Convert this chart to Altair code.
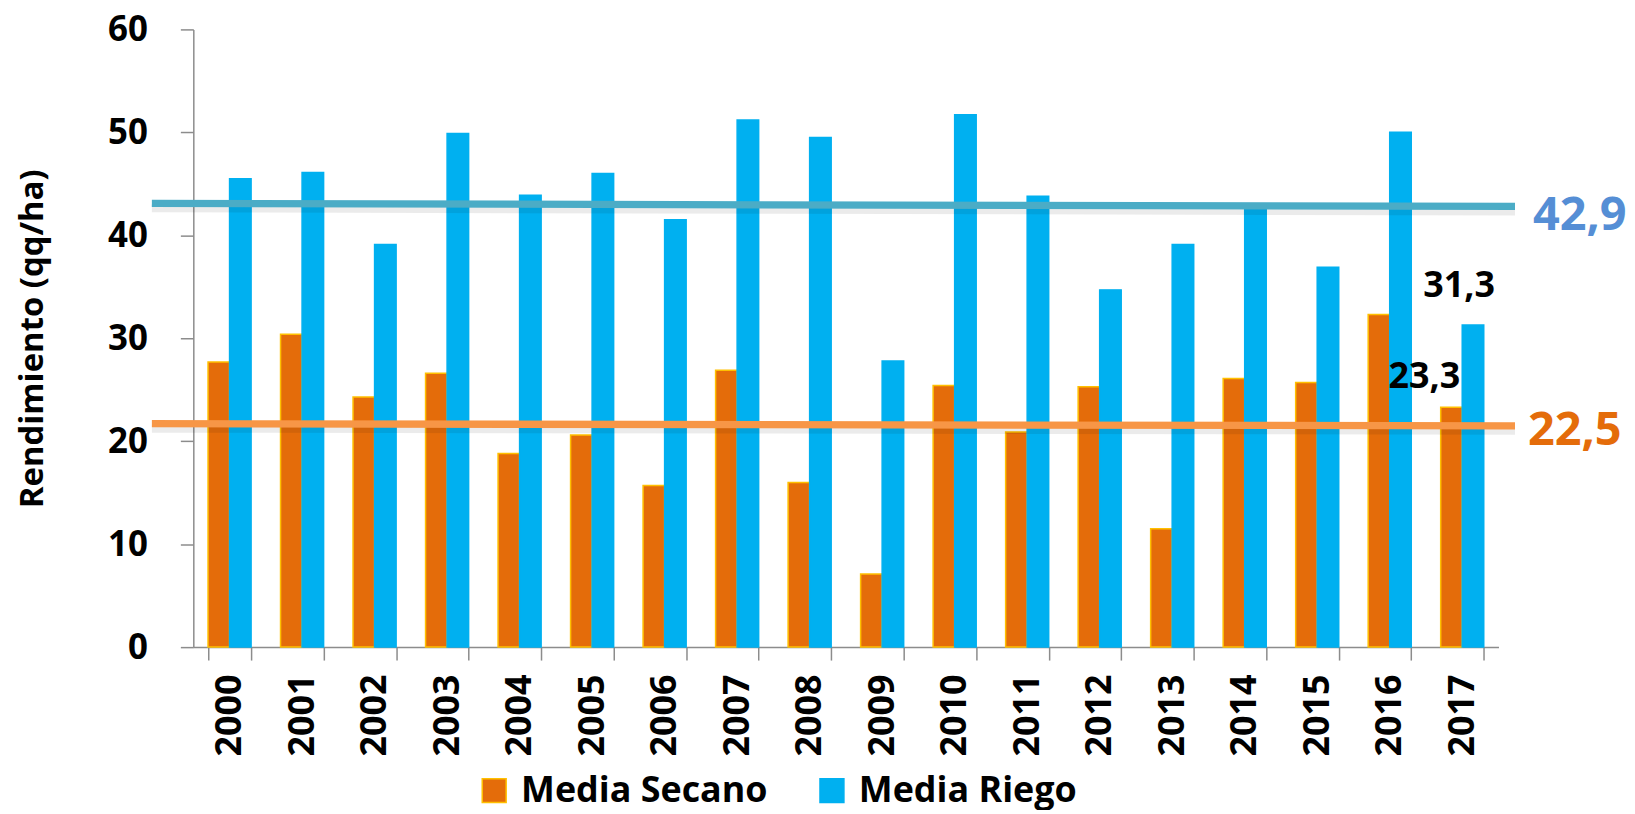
import altair as alt
import pandas as pd

# ---------------- data ----------------
years = [str(y) for y in range(2000, 2018)]
secano = [27.7, 30.4, 24.3, 26.6, 18.8, 20.6, 15.7, 26.9, 16.0, 7.1,
          25.4, 20.9, 25.3, 11.5, 26.1, 25.7, 32.3, 23.3]
riego = [45.5, 46.1, 39.1, 49.9, 43.9, 46.0, 41.5, 51.2, 49.5, 27.8,
         51.7, 43.8, 34.7, 39.1, 42.6, 36.9, 50.0, 31.3]
series = ["Media Secano", "Media Riego"]
fill_colors = ["#E46C0A", "#00B0F0"]
stroke_colors = ["#FFC000", "#00B0F0"]

# trend (mean) lines: value at start and end
trend_start = [21.7, 43.1]
trend_end = [21.5, 42.8]
mean_labels = ["22,5", "42,9"]
mean_colors = ["#E46C0A", "#558ED5"]
line_colors = ["#F79646", "#4BACC6"]

# labels on the last year
last_values = [23.3, 31.3]
last_labels = ["23,3", "31,3"]

FONT = "Open Sans"
GRAY = "#8C8C8C"

# ---------------- tables ----------------
rows = []
for i, yr in enumerate(years):
    rows.append({"year": yr, "serie": series[0], "value": secano[i]})
    rows.append({"year": yr, "serie": series[1], "value": riego[i]})
df = pd.DataFrame(rows)

trend = pd.DataFrame({
    "serie": series,
    "x0": [years[0]] * 2,
    "x1": [years[-1]] * 2,
    "start": trend_start,
    "end": trend_end,
    "label": mean_labels,
})

last = pd.DataFrame({"year": [years[-1]] * 2, "value": last_values, "label": last_labels})

x_scale = alt.Scale(domain=years, paddingInner=0.406, paddingOuter=0.203)
y_scale = alt.Scale(domain=[0, 60], nice=False)

legend = alt.Legend(
    title=None, orient="none", legendX=284, legendY=746, direction="horizontal",
    symbolType="square", symbolSize=576, symbolStrokeWidth=1.5,
    labelFont=FONT, labelFontSize=36, labelFontWeight="bold", labelColor="black",
    labelOffset=9, columnPadding=46, labelLimit=500, padding=0,
)

bars = alt.Chart(df).mark_bar(strokeWidth=1.5).encode(
    x=alt.X("year:N", scale=x_scale, axis=alt.Axis(
        title=None, labelAngle=-90, labelFont=FONT, labelFontSize=36,
        labelFontWeight="bold", labelColor="black", labelPadding=14,
        labelOverlap=False, tickBand="extent", tickSize=13, tickColor=GRAY,
        tickWidth=1.5, domainColor=GRAY, domainWidth=1.5, grid=False)),
    xOffset=alt.XOffset("serie:N", sort=series,
                        scale=alt.Scale(domain=series, paddingInner=0, paddingOuter=0)),
    y=alt.Y("value:Q", scale=y_scale, axis=alt.Axis(
        title="Rendimiento (qq/ha)", values=[0, 10, 20, 30, 40, 50, 60],
        labelFont=FONT, labelFontSize=35, labelFontWeight="bold", labelColor="black",
        labelPadding=33, tickSize=13, tickColor=GRAY, tickWidth=1.5,
        domainColor=GRAY, domainWidth=1.5, grid=False,
        titleFont=FONT, titleFontSize=33, titleFontWeight="bold", titleColor="black",
        titlePadding=58)),
    color=alt.Color("serie:N", sort=series,
                    scale=alt.Scale(domain=series, range=fill_colors), legend=legend),
    stroke=alt.Stroke("serie:N", sort=series,
                      scale=alt.Scale(domain=series, range=stroke_colors), legend=legend),
)

rule_enc = dict(
    x=alt.X("x0:N"),
    x2=alt.X2("x1:N"),
    y=alt.Y("start:Q"),
    y2=alt.Y2("end:Q"),
)

shadow = alt.Chart(trend).mark_rule(
    strokeWidth=8, color="#000000", opacity=0.08,
    xOffset=-78, x2Offset=53, yOffset=5, y2Offset=5,
).encode(**rule_enc)

trend_o = alt.Chart(trend).transform_filter(alt.datum.serie == series[0]).mark_rule(
    strokeWidth=7.3, color=line_colors[0], xOffset=-78, x2Offset=53,
).encode(**rule_enc)
trend_b = alt.Chart(trend).transform_filter(alt.datum.serie == series[1]).mark_rule(
    strokeWidth=7.3, color=line_colors[1], xOffset=-78, x2Offset=53,
).encode(**rule_enc)

mean_o = alt.Chart(trend).transform_filter(alt.datum.serie == series[0]).mark_text(
    align="left", baseline="middle", font=FONT, fontWeight="bold", fontSize=47,
    color=mean_colors[0], dx=66, dy=5,
).encode(x=alt.X("x1:N"), y=alt.Y("end:Q"), text="label:N")
mean_b = alt.Chart(trend).transform_filter(alt.datum.serie == series[1]).mark_text(
    align="left", baseline="middle", font=FONT, fontWeight="bold", fontSize=47,
    color=mean_colors[1], dx=71, dy=10,
).encode(x=alt.X("x1:N"), y=alt.Y("end:Q"), text="label:N")

lab_o = alt.Chart(last).transform_filter(alt.datum.label == last_labels[0]).mark_text(
    align="center", baseline="middle", font=FONT, fontWeight="bold", fontSize=36,
    color="black", dx=-38, dy=-30,
).encode(x=alt.X("year:N"), y=alt.Y("value:Q"), text="label:N")
lab_b = alt.Chart(last).transform_filter(alt.datum.label == last_labels[1]).mark_text(
    align="center", baseline="middle", font=FONT, fontWeight="bold", fontSize=36,
    color="black", dx=-3, dy=-39,
).encode(x=alt.X("year:N"), y=alt.Y("value:Q"), text="label:N")

chart = alt.layer(bars, shadow, trend_o, trend_b, mean_o, mean_b, lab_o, lab_b).properties(
    width=1310, height=620,
    padding={"left": 8, "top": 3, "right": 0, "bottom": 0},
    background="white",
).configure_view(stroke=None)

chart.save("out.html", embed_options={"renderer": "svg", "actions": False})
